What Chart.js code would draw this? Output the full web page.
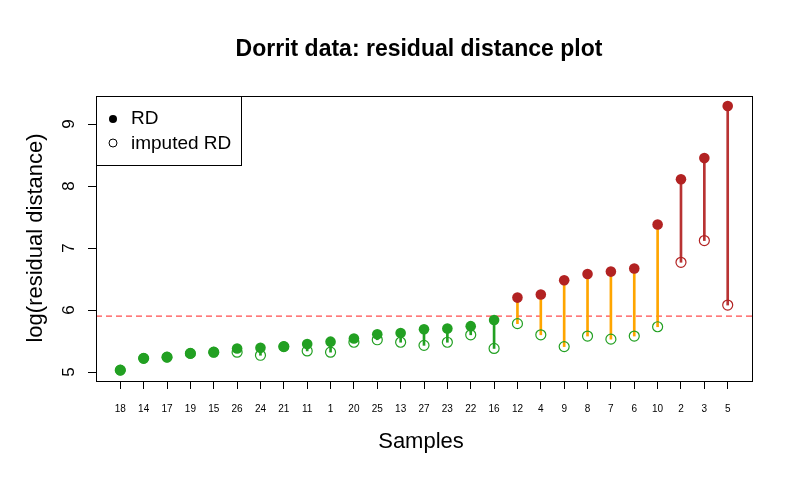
<!DOCTYPE html>
<html>
<head>
<meta charset="utf-8">
<script src="https://cdn.jsdelivr.net/npm/chart.js@4"></script>
<style>
  html, body { margin: 0; padding: 0; background: #fff; }
  #wrap { width: 800px; height: 500px; }
</style>
</head>
<body>
<div id="wrap"><canvas id="rdChart" width="800" height="500"></canvas></div>
<script>
// sample ids in plotted order (sorted by RD)
const samples = ['18','14','17','19','15','26','24','21','11','1','20','25','13','27','23','22','16','12','4','9','8','7','6','10','2','3','5'];
// log residual distance
const rdValues = [5.03, 5.22, 5.24, 5.30, 5.32, 5.38, 5.39, 5.41, 5.45, 5.49, 5.54, 5.61, 5.63, 5.69, 5.70, 5.74, 5.84, 6.20, 6.25, 6.48, 6.58, 6.62, 6.67, 7.38, 8.11, 8.45, 9.29];
// log imputed residual distance
const imputedValues = [5.03, 5.22, 5.24, 5.30, 5.32, 5.32, 5.27, 5.41, 5.34, 5.32, 5.48, 5.52, 5.48, 5.43, 5.48, 5.60, 5.38, 5.78, 5.60, 5.41, 5.58, 5.53, 5.58, 5.73, 6.77, 7.12, 6.08];
const cutoff = 5.9;
const yTicks = [5, 6, 7, 8, 9];

const GREEN = '#22a022';
const ORANGE = '#ffa500';
const RED = '#b22222';

// colour rule: below cutoff green, RD above but imputed below orange, both above red
const pointColors = rdValues.map(v => (v < cutoff ? GREEN : RED));
const openColors = imputedValues.map(v => (v < cutoff ? GREEN : RED));
const segColors = rdValues.map((v, i) => {
  if (v < cutoff) return GREEN;
  if (imputedValues[i] < cutoff) return ORANGE;
  return '#b83333';
});

const font = 'Liberation Sans, Arial, Helvetica, sans-serif';

// frame, title, axis titles, cutoff line and legend
const decorations = {
  id: 'decorations',
  beforeDatasetsDraw(chart) {
    const { ctx, chartArea: a, scales } = chart;
    const yc = scales.y.getPixelForValue(cutoff);
    ctx.save();
    ctx.strokeStyle = '#ff4d4d';
    ctx.lineWidth = 1.2;
    ctx.setLineDash([6, 4]);
    ctx.beginPath();
    ctx.moveTo(a.left, yc);
    ctx.lineTo(a.right, yc);
    ctx.stroke();
    ctx.restore();
  },
  afterDraw(chart) {
    const { ctx, chartArea: a } = chart;
    ctx.save();
    ctx.strokeStyle = '#000';
    ctx.lineWidth = 1;
    ctx.strokeRect(a.left + 0.5, a.top + 0.5, a.right - a.left, a.bottom - a.top);

    ctx.fillStyle = '#000';
    ctx.textAlign = 'center';
    ctx.textBaseline = 'middle';
    ctx.font = 'bold 23px ' + font;
    ctx.fillText('Dorrit data: residual distance plot', 419, 50);

    ctx.font = '22px ' + font;
    ctx.fillText('Samples', 421, 442);
    ctx.save();
    ctx.translate(36, 238);
    ctx.rotate(-Math.PI / 2);
    ctx.fillText('log(residual distance)', 0, 0);
    ctx.restore();

    // y tick labels, rotated like base R
    ctx.font = '17px ' + font;
    yTicks.forEach(t => {
      const y = chart.scales.y.getPixelForValue(t);
      ctx.save();
      ctx.translate(69, y);
      ctx.rotate(-Math.PI / 2);
      ctx.fillText(String(t), 0, 0);
      ctx.restore();
    });

    // legend box
    ctx.strokeRect(a.left + 0.5, a.top + 0.5, 145, 69);
    ctx.textAlign = 'left';
    ctx.font = '19px ' + font;
    ctx.beginPath();
    ctx.arc(113, 119, 4, 0, Math.PI * 2);
    ctx.fill();
    ctx.fillText('RD', 131, 119);
    ctx.beginPath();
    ctx.arc(113, 143, 4, 0, Math.PI * 2);
    ctx.stroke();
    ctx.fillText('imputed RD', 131, 144);
    ctx.restore();
  }
};

new Chart(document.getElementById('rdChart'), {
  data: {
    datasets: [
      {
        type: 'bar',
        data: samples.map((s, i) => ({ x: i + 1, y: [imputedValues[i], rdValues[i]] })),
        backgroundColor: segColors,
        borderWidth: 0,
        barThickness: 2,
        order: 3
      },
      {
        type: 'scatter',
        data: samples.map((s, i) => ({ x: i + 1, y: imputedValues[i] })),
        pointStyle: 'circle',
        pointRadius: 5,
        pointBorderWidth: 1.2,
        pointBorderColor: openColors,
        pointBackgroundColor: 'rgba(0,0,0,0)',
        order: 2
      },
      {
        type: 'scatter',
        data: samples.map((s, i) => ({ x: i + 1, y: rdValues[i] })),
        pointStyle: 'circle',
        pointRadius: 5.3,
        pointBorderWidth: 0,
        pointBackgroundColor: pointColors,
        order: 1
      }
    ]
  },
  options: {
    responsive: false,
    animation: false,
    layout: { padding: { top: 96, right: 48, left: 0, bottom: 0 } },
    plugins: { legend: { display: false }, tooltip: { enabled: false }, title: { display: false } },
    scales: {
      x: {
        type: 'linear',
        min: -0.04,
        max: 28.04,
        offset: false,
        afterBuildTicks: scale => { scale.ticks = samples.map((s, i) => ({ value: i + 1 })); },
        afterFit: scale => { scale.height = 119; },
        grid: { offset: false, drawOnChartArea: false, drawTicks: true, tickLength: 8, color: '#000', tickColor: '#000' },
        border: { display: false },
        ticks: {
          autoSkip: false,
          maxRotation: 0,
          padding: 14,
          color: '#000',
          font: { family: font, size: 10 },
          callback: v => samples[v - 1]
        }
      },
      y: {
        type: 'linear',
        min: 4.855,
        max: 9.452,
        afterBuildTicks: scale => { scale.ticks = yTicks.map(v => ({ value: v })); },
        afterFit: scale => { scale.width = 96; },
        grid: { drawOnChartArea: false, drawTicks: true, tickLength: 8, color: '#000', tickColor: '#000' },
        border: { display: false },
        ticks: { display: false }
      }
    }
  },
  plugins: [decorations]
});
</script>
</body>
</html>
